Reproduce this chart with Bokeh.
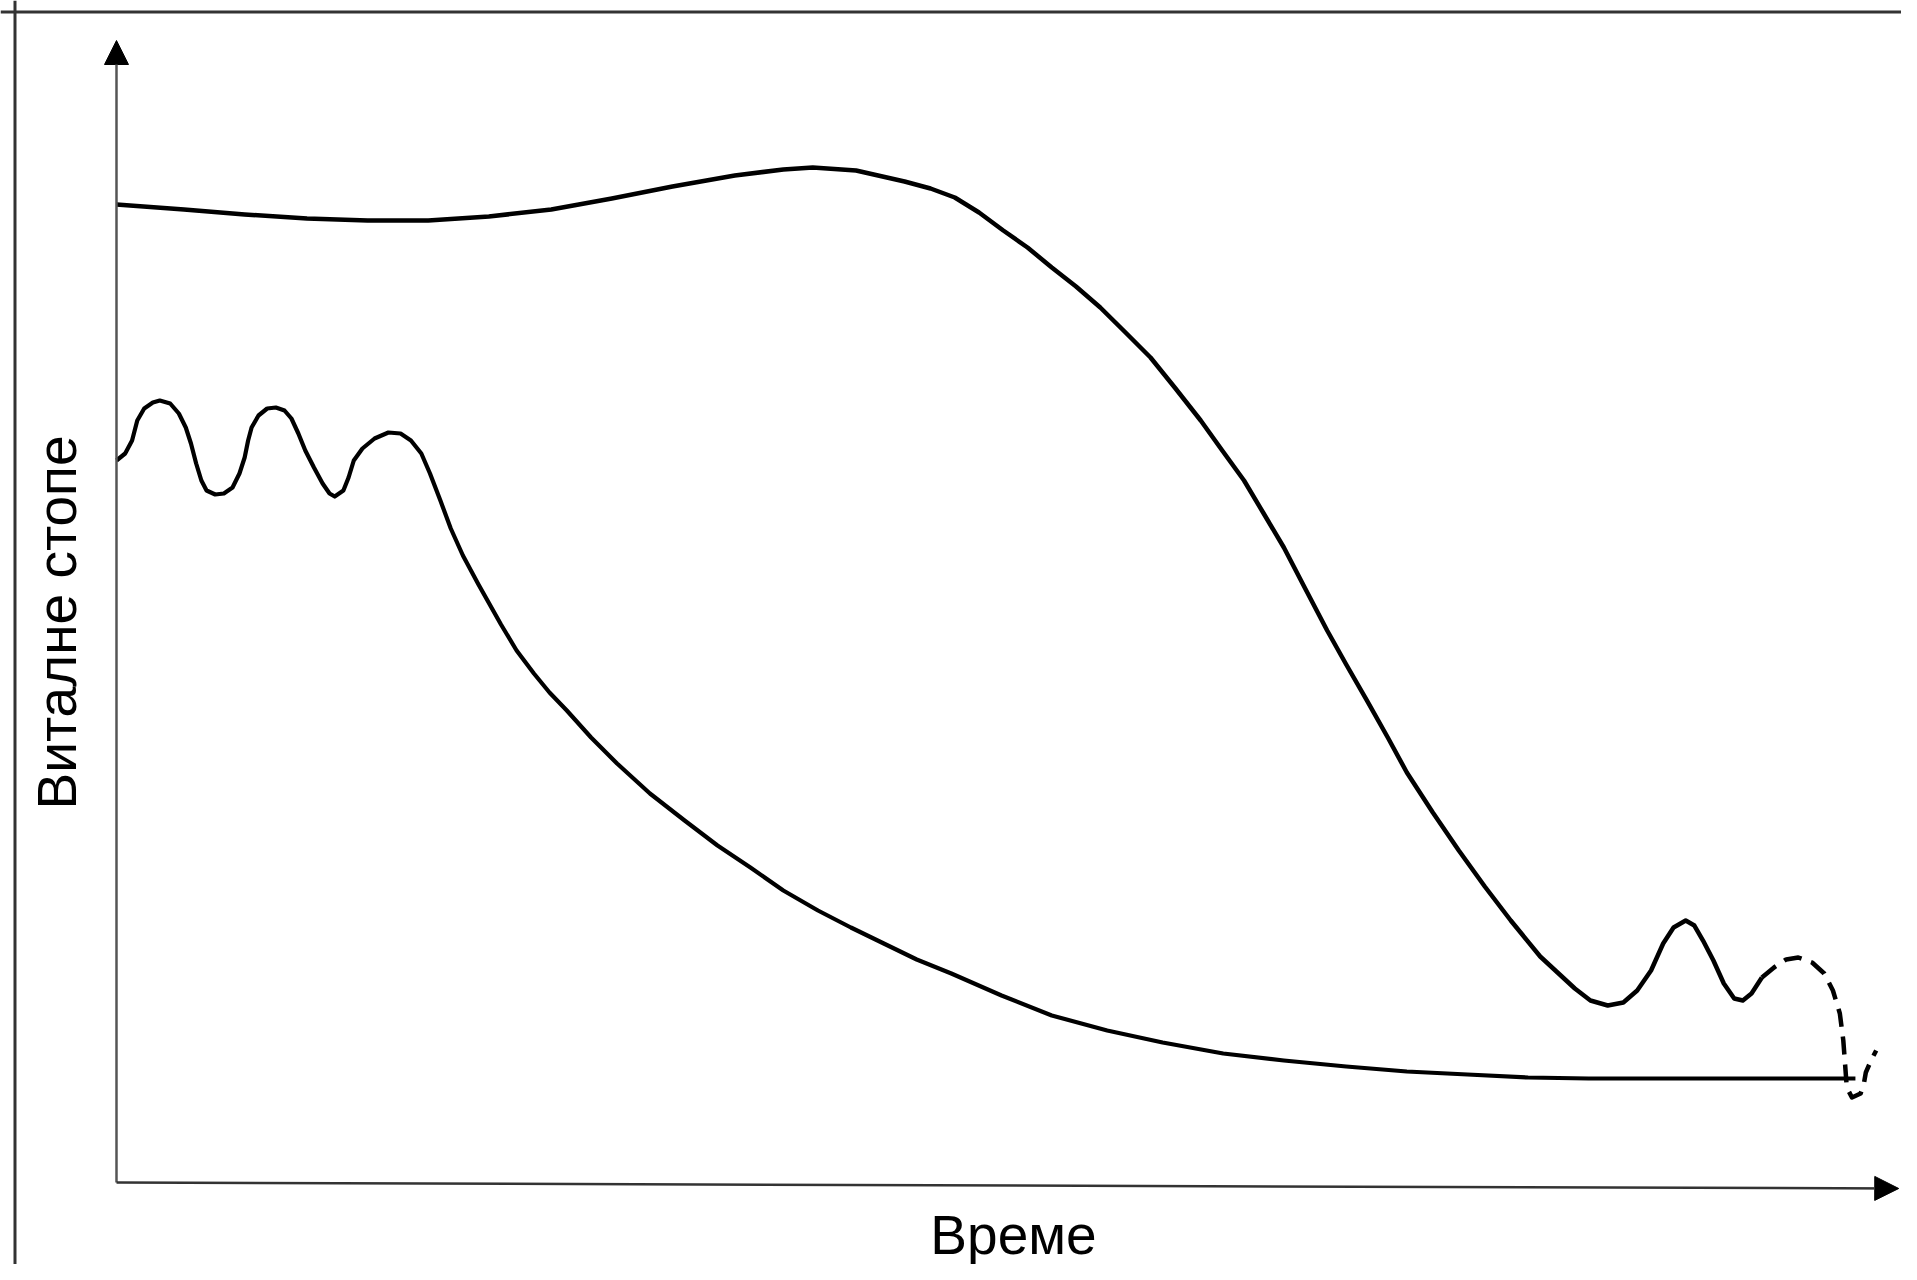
import math
from bokeh.plotting import figure
from bokeh.models import Range1d, Arrow, NormalHead, Span, Label
from bokeh.embed import file_html
from bokeh.resources import INLINE

# ---- data (time units 0..100, vital-energy units) ----
upper_t = [0, 3.9, 7.4, 11.0, 14.5, 18.0, 21.5, 25.1, 28.6, 32.1, 35.7, 38.5, 40.2,
           42.7, 45.5, 47.0, 48.4, 49.8, 51.2, 52.6, 54.0, 55.4, 56.8, 58.2, 59.7,
           61.1, 62.6, 63.8, 65.1, 66.2, 67.4, 68.6, 69.9, 71.0, 72.2, 73.4, 74.5,
           76.0, 77.5, 79.0, 80.5, 82.2, 83.2, 84.2, 85.1, 86.1, 87.0, 87.8,
           88.6, 89.3, 89.9, 90.6, 91.1, 91.6, 92.2, 92.8, 93.4, 93.9, 94.4, 95.0]
upper_v = [97.8, 97.3, 96.8, 96.4, 96.2, 96.2, 96.6, 97.3, 98.4, 99.6, 100.7, 101.3, 101.5,
           101.2, 100.1, 99.4, 98.5, 97.0, 95.2, 93.5, 91.5, 89.6, 87.5, 85.1, 82.5,
           79.5, 76.2, 73.3, 70.2, 67.0, 63.5, 59.5, 55.2, 51.8, 48.2, 44.5, 41.0,
           37.0, 33.2, 29.6, 26.2, 22.6, 21.0, 19.4, 18.2, 17.7, 18.0, 19.2,
           21.2, 23.9, 25.5, 26.2, 25.7, 24.2, 22.2, 19.9, 18.4, 18.2, 18.9, 20.5]

upper_dash_t = [95.0, 95.7, 96.4, 97.1, 97.9, 98.6, 99.1, 99.5, 99.7, 99.8, 99.9,
                100.2, 100.7, 100.9, 101.0, 101.3, 101.6]
upper_dash_v = [20.5, 21.5, 22.3, 22.5, 22.0, 20.9, 19.2, 16.9, 14.2, 11.9, 9.5,
                8.5, 8.9, 10.0, 11.0, 12.2, 13.2]

lower_t = [0.0, 0.5, 0.9, 1.2, 1.6, 2.1, 2.5, 3.1, 3.6, 4.0, 4.3, 4.6, 4.9, 5.2,
           5.7, 6.2, 6.7, 7.1, 7.4, 7.6, 7.8, 8.2, 8.7, 9.2, 9.7, 10.1, 10.5, 10.9,
           11.4, 11.9, 12.3, 12.6, 13.1, 13.4, 13.7, 14.2, 14.9, 15.7, 16.4, 17.0,
           17.6, 18.1, 18.7, 19.3, 20.0, 20.9, 22.2, 23.1, 24.1, 25.0, 26.0, 27.4,
           28.9, 30.8, 32.8, 34.7, 36.6, 38.5, 40.5, 42.4, 44.3, 46.2, 48.2, 51.1,
           54.0, 57.2, 60.4, 63.9, 67.4, 71.0, 74.5, 78.0, 81.5, 85.0, 88.6, 95.7, 100.4]
lower_v = [72.2, 72.9, 74.2, 76.2, 77.4, 78.0, 78.2, 77.9, 76.9, 75.5, 73.9, 71.9,
           70.2, 69.2, 68.8, 68.9, 69.5, 70.9, 72.5, 74.2, 75.5, 76.7, 77.4, 77.5,
           77.2, 76.4, 74.9, 73.2, 71.5, 69.9, 68.9, 68.6, 69.2, 70.5, 72.2, 73.4,
           74.4, 75.0, 74.9, 74.2, 72.9, 70.9, 68.2, 65.4, 62.7, 59.8, 55.8, 53.2,
           50.9, 49.0, 47.2, 44.5, 41.9, 38.9, 36.2, 33.7, 31.5, 29.2, 27.2, 25.5,
           23.9, 22.3, 20.9, 18.7, 16.7, 15.2, 14.0, 12.9, 12.2, 11.6, 11.1, 10.8,
           10.5, 10.4, 10.4, 10.4, 10.4]

x_label = "Време"
y_label = "Виталне стопе"

FONT = "Liberation Sans"

p = figure(width=1901, height=1264, output_backend="svg", toolbar_location=None,
           x_range=Range1d(-6.697, 103.06), y_range=Range1d(-8.2, 118.2),
           x_axis_type=None, y_axis_type=None, min_border=0)
p.outline_line_color = None
p.background_fill_color = "white"
p.border_fill_color = "white"

# frame border (left / top)
p.add_layout(Span(location=-5.86, dimension="height", line_color="#333333", line_width=3))
p.add_layout(Span(location=117.05, dimension="width", line_color="#333333", line_width=3))

# axes with arrows
p.add_layout(Arrow(x_start=0, y_start=0, x_end=0, y_end=114.2,
                   line_color="#555555", line_width=2.5,
                   end=NormalHead(size=24, fill_color="black", line_color="black")))
p.add_layout(Arrow(x_start=0, y_start=0, x_end=102.9, y_end=-0.6,
                   line_color="#333333", line_width=2.5,
                   end=NormalHead(size=24, fill_color="black", line_color="black")))

# curves
p.line(upper_t, upper_v, line_color="black", line_width=4.5, line_join="round")
p.line(upper_dash_t, upper_dash_v, line_color="black", line_width=4.5,
       line_dash="18 10", line_join="round")
p.line(lower_t, lower_v, line_color="black", line_width=4.2, line_join="round")

# labels
p.add_layout(Label(x=-3.46, y=56.0, text=y_label, angle=math.pi / 2,
                   text_align="center", text_baseline="alphabetic",
                   text_font=FONT, text_font_size="55px", text_color="black"))
p.add_layout(Label(x=51.79, y=-5.2, text=x_label,
                   text_align="center", text_baseline="alphabetic",
                   text_font=FONT, text_font_size="55px", text_color="black"))

open("out.html", "w").write(file_html(p, INLINE))
